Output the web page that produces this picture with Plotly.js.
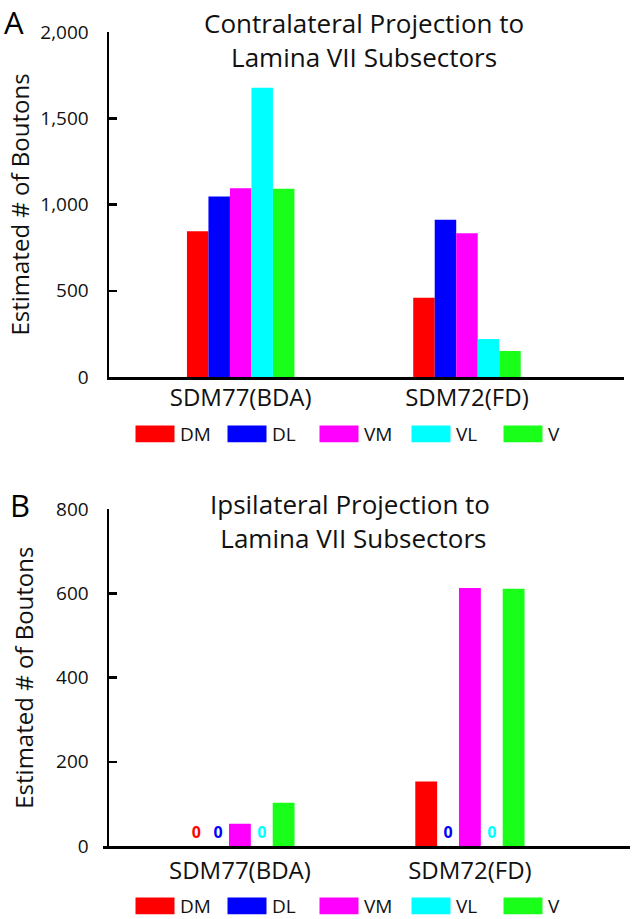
<!DOCTYPE html>
<html><head><meta charset="utf-8">
<script src="https://cdn.plot.ly/plotly-3.0.1.min.js"></script>
<style>html,body{margin:0;padding:0;background:#fff}</style>
</head><body><div id="chart" style="width:635px;height:919px"></div>
<script>
// ---- data ----
const categories = ['SDM77(BDA)', 'SDM72(FD)'];
const sectors = ['DM', 'DL', 'VM', 'VL', 'V'];
// Panel A: contralateral projection
const contraDM = [845, 460];
const contraDL = [1047, 912];
const contraVM = [1094, 833];
const contraVL = [1677, 220];
const contraV  = [1092, 151];
// Panel B: ipsilateral projection
const ipsiDM = [0, 153];
const ipsiDL = [0, 0];
const ipsiVM = [53, 613];
const ipsiVL = [0, 0];
const ipsiV  = [103, 611];
const yTicksA = [0, 500, 1000, 1500, 2000];
const yTicksB = [0, 200, 400, 600, 800];

// ---- styles ----
const colors = ['#ff0000', '#0000ff', '#ff00ff', '#00ffff', '#1aff1a'];
const FONT = 'Open Sans, Liberation Sans, sans-serif';
const W = 635, H = 919;
const px = v => v / W;
const py = v => 1 - v / H;

const contra = [contraDM, contraDL, contraVM, contraVL, contraV];
const ipsi = [ipsiDM, ipsiDL, ipsiVM, ipsiVL, ipsiV];

const traces = [];
sectors.forEach((s, i) => {
  traces.push({
    type: 'bar', name: s, x: categories, y: contra[i],
    xaxis: 'x', yaxis: 'y', legend: 'legend',
    marker: {color: colors[i], line: {width: 0}},
    hoverinfo: 'skip'
  });
});
sectors.forEach((s, i) => {
  traces.push({
    type: 'bar', name: s, x: categories, y: ipsi[i],
    xaxis: 'x2', yaxis: 'y2', legend: 'legend2',
    marker: {color: colors[i], line: {width: 0}},
    text: ipsi[i].map(v => v === 0 ? '0' : ''),
    textposition: 'outside', cliponaxis: false,
    textfont: {family: FONT, size: 16, color: colors[i], weight: 'bold'},
    hoverinfo: 'skip'
  });
});

function yAxis(domain, range, ticks, standoff) {
  return {
    domain: domain, range: range, tickvals: ticks, tickformat: ',d',
    showline: true, linewidth: 2.5, linecolor: '#000',
    ticks: 'inside', ticklen: 8, tickwidth: 2.5, tickcolor: '#000',
    ticklabelstandoff: 14,
    tickfont: {family: FONT, size: 19, color: '#111'},
    showgrid: false, zeroline: false, fixedrange: true,
    title: {text: 'Estimated # of Boutons', font: {family: FONT, size: 24, color: '#111'}, standoff: standoff}
  };
}
function xAxis(domain, range, anchor, standoff) {
  return {
    domain: domain, range: range, anchor: anchor, type: 'category',
    showline: true, linewidth: 3, linecolor: '#000', ticks: '',
    ticklabelstandoff: standoff,
    tickfont: {family: FONT, size: 24, color: '#111'},
    showgrid: false, zeroline: false, fixedrange: true
  };
}
function legendAt(y) {
  return {
    orientation: 'h', x: px(130), xanchor: 'left', y: py(y), yanchor: 'middle',
    itemwidth: 40, entrywidth: 37, entrywidthmode: 'pixels',
    font: {family: FONT, size: 19, color: '#111'},
    bgcolor: 'rgba(0,0,0,0)', borderwidth: 0, traceorder: 'normal',
    itemclick: false, itemdoubleclick: false
  };
}

const layout = {
  width: W, height: H, margin: {l: 0, r: 0, t: 0, b: 0, autoexpand: false},
  paper_bgcolor: '#fff', plot_bgcolor: '#fff',
  barmode: 'group', bargap: 0.525, bargroupgap: 0,
  showlegend: true,
  font: {family: FONT, color: '#111'},
  xaxis: xAxis([px(109), px(624)], [-0.582, 1.694], 'y', -3),
  yaxis: yAxis([py(377), py(32)], [0, 2000], yTicksA, 4),
  xaxis2: xAxis([px(103.3), px(630)], [-0.594, 1.696], 'y2', 1),
  yaxis2: yAxis([py(846), py(509.3)], [0, 800], yTicksB, 16),
  legend: legendAt(434),
  legend2: legendAt(906),
  annotations: [
    {text: 'Contralateral Projection to<br>Lamina VII Subsectors', xref: 'paper', yref: 'paper',
     x: px(364), y: py(3), xanchor: 'center', yanchor: 'top', showarrow: false,
     font: {family: FONT, size: 26, color: '#111'}},
    {text: 'Ipsilateral Projection to<br> Lamina VII Subsectors', xref: 'paper', yref: 'paper',
     x: px(350), y: py(484), xanchor: 'center', yanchor: 'top', showarrow: false,
     font: {family: FONT, size: 26, color: '#111'}},
    {text: 'A', xref: 'paper', yref: 'paper', x: px(2), y: py(-1), xanchor: 'left', yanchor: 'top',
     showarrow: false, font: {family: FONT, size: 31, color: '#000'}},
    {text: 'B', xref: 'paper', yref: 'paper', x: px(8), y: py(482), xanchor: 'left', yanchor: 'top',
     showarrow: false, font: {family: FONT, size: 31, color: '#000'}}
  ]
};

Plotly.newPlot('chart', traces, layout, {staticPlot: true, displayModeBar: false}).then(gd => {
  gd.querySelectorAll('.legendpoints path').forEach(p => {
    p.setAttribute('d', 'M19.5,8.3H-19.5V-8.3H19.5Z');
  });
});
</script>
</body></html>
